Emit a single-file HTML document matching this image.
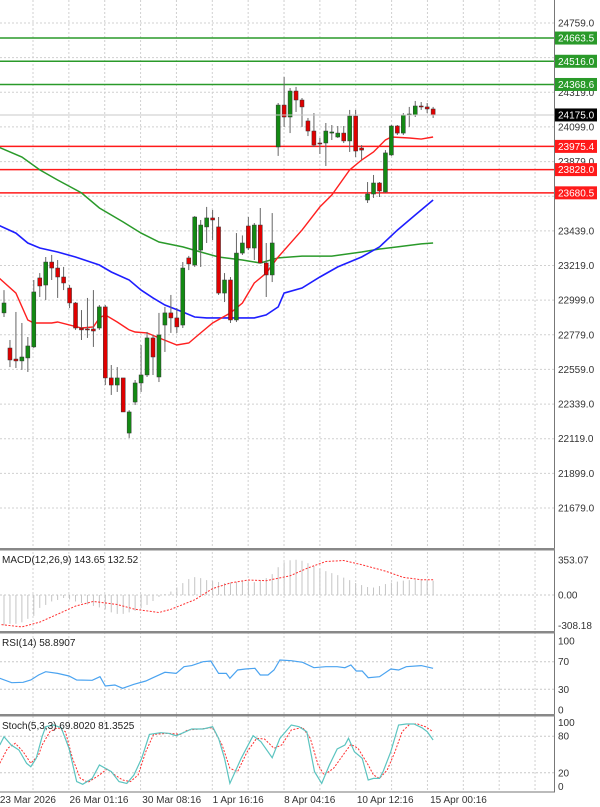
<!DOCTYPE html>
<html><head><meta charset="utf-8">
<style>
html,body{margin:0;padding:0;background:#fff;}
svg{display:block;font-family:"Liberation Sans",sans-serif;}
</style></head>
<body>
<svg id="chart" width="600" height="807" viewBox="0 0 600 807" xmlns="http://www.w3.org/2000/svg">
<g id="grid"></g>
<g id="levels"></g>
<g id="mas"></g>
<g id="candles"></g>
<g id="macd"></g>
<g id="rsi"></g>
<g id="stoch"></g>
<g id="axes"></g>
</svg>
<script>
const opens=[22918,22695,22625,22613,22632,22702,23140,23095,23241,23203,23146,23076,22981,22822,22816,22816,22822,22956,22505,22460,22505,22155,22352,22473,22524,22759,22511,22841,22918,22886,22841,23267,23222,23317,23464,23521,23464,23044,23127,22873,23298,23470,23330,23476,23235,23159,23972,24238,24162,24327,24270,24137,24073,23997,23997,24060,24035,24060,24010,24168,23965,23635,23673,23743,23686,23921,24105,24060,24175,24175,24232,24226,24213];
const closes=[22981,22619,22613,22638,22708,23051,23089,23241,23203,23146,23108,22981,22822,22810,22810,22803,22956,22505,22460,22505,22289,22289,22473,22524,22759,22638,22778,22918,22886,22829,23203,23229,23527,23476,23521,23508,23044,23127,22873,23298,23362,23330,23476,23235,23159,23362,24238,24162,24327,24270,24226,24073,23984,23991,24073,24067,24060,24010,24168,23946,23952,23673,23743,23692,23934,24105,24060,24175,24181,24232,24226,24213,24175];
const highs=[23063,22746,22924,22854,22765,23127,23171,23273,23286,23254,23210,23095,22987,22936,23013,23063,22968,22968,22587,22574,22505,22300,22492,22714,22797,22778,22918,22956,23032,22949,23241,23280,23533,23508,23591,23572,23527,23171,23146,23425,23410,23527,23489,23584,23362,23552,24251,24416,24346,24353,24283,24156,24187,24029,24124,24111,24105,24105,24207,24207,23984,23749,23794,23749,23952,24111,24111,24187,24226,24264,24257,24251,24226];
const lows=[22892,22574,22568,22556,22543,22695,23019,23000,23127,23013,23063,22949,22810,22746,22759,22702,22810,22460,22397,22416,22289,22124,22333,22416,22511,22524,22479,22670,22791,22791,22822,23190,23210,23210,23362,23381,23032,22987,22854,22860,23286,23317,23254,23235,23019,23114,23915,24099,24060,24194,24099,24041,23972,23927,23851,24016,24029,23997,23940,23908,23889,23616,23648,23654,23680,23915,24048,24048,24099,24162,24207,24187,24156];

const fastIdx=[-1,2,4,5,8,9,13,15,16,17,19,21,22,24,26,29,31,33,35,38,40,42,44,46,50,53,55,58,60,62,64,65,68,70,72];
const fastVal=[23146,23044,22873,22854,22854,22860,22822,22829,22886,22905,22860,22810,22797,22791,22759,22714,22727,22791,22854,22918,22981,23108,23171,23273,23444,23591,23667,23826,23889,23940,24016,24035,24029,24022,24035];
const midIdx=[-1,2,4,6,9,12,16,18,21,23,25,27,30,32,34,38,42,44,46,47,50,53,56,60,63,66,69,72];
const midVal=[23476,23425,23362,23330,23305,23273,23222,23178,23127,23063,23013,22968,22924,22892,22886,22886,22886,22905,22956,23044,23076,23146,23210,23273,23337,23444,23540,23635];
const slowIdx=[-1,3,6,9,13,16,20,23,26,30,33,36,40,43,46,50,55,60,63,66,70,72];
const slowVal=[23972,23908,23826,23762,23680,23584,23495,23425,23368,23337,23305,23273,23254,23235,23267,23279,23279,23305,23324,23337,23356,23362];

const levelPrices=[24663.5,24516.0,24368.6,23975.4,23828.0,23680.5];
const levelKinds=["resistance","resistance","resistance","support","support","support"];
const priceTicks=[24759,24319,24099,23879,23439,23219,22999,22779,22559,22339,22119,21899,21679];
const gridPrices=[24759,24539,24319,24099,23879,23659,23439,23219,22999,22779,22559,22339,22119,21899,21679];
const lastPrice=24175.0;

const macdHist=[-305,-290,-290,-275,-240,-210,-130,-100,-65,-50,-30,-45,-65,-80,-95,-110,-125,-145,-175,-190,-190,-175,-160,-130,-100,-60,-20,10,35,75,120,160,180,170,150,140,130,120,125,130,140,135,130,150,170,210,280,330,350,355,345,320,290,265,240,220,200,175,150,120,100,80,75,90,110,125,135,145,150,150,150,148,144];
const sigIdx=[-1,3,6,9,12,15,19,22,26,28,32,35,38,41,44,48,51,54,57,60,64,67,70,72];
const sigVal=[-295,-321,-273,-193,-112,-64,-96,-144,-176,-144,-48,64,122,151,144,193,273,337,347,305,241,177,154,154];

const rsiIdx=[-0.7,1.3,3.2,4.5,5.8,7,9,10.9,12.2,14.8,16.1,17,18.6,19.9,21.8,23.8,25,27,28.9,30.2,31.5,33.4,34.7,36,37.3,37.9,39.2,40.5,42.1,43,44.3,45.3,46.3,48.2,50.1,52,54,55.9,57.2,58.2,59.1,60.1,61.1,63,64.9,66.2,67.5,70,72];
const rsiVal=[45.9,39.6,40.1,43.5,50.7,55.5,53.1,49.3,43.5,43,48.3,34.8,36.2,31.4,37.2,42,46.8,54.6,53.1,62.8,64.3,70,71,53.1,53.1,45.9,58,59.4,60.4,50.7,50.7,58,72.5,71.5,69.1,61.3,62.8,62.8,61.3,65.2,56.5,56.5,46.8,48.3,59.4,58,62.8,64.3,60.4];

const kIdx=[-0.7,0,1.2,2.5,3.8,4.5,5.4,6.4,7,8.3,9.6,10.9,12.2,13.2,14.8,16,18,19.3,20.6,21.8,23.1,24.4,26.3,27.6,28.9,30.2,31.5,33.4,35,36,37,37.9,39.8,41.8,43.1,45,46.3,48.2,49.5,50.8,52.1,53.3,54.6,55.9,57.2,57.8,58.8,60.1,61.1,62,63,63.6,64.9,66.2,67.5,68.8,70.1,71,72];
const kVal=[65.6,79.2,65.6,57.4,35.5,30,43.7,79.2,95.6,98.4,94,60.1,5.5,1.1,10.9,32.8,21.9,5.5,2.7,16.4,43.7,83,85.8,84.7,80.9,86.3,91.8,91.8,95.6,76.5,43.7,2.7,43.7,80.9,71,44.8,76.5,98.4,95.6,87.4,21.9,2.7,32.8,59,65.6,76.5,54.6,43.7,8.2,10.9,10.9,21.9,54.6,98.4,100,100,94,87.4,73.8];
const dIdx=[-0.7,0.6,1.9,3.2,4.5,5.8,6.4,7.7,9,10.3,11.5,12.8,14.1,16,17.3,18.6,19.9,21.2,22.5,23.8,25.1,27.6,29.6,30.8,32.8,35,36.6,37.9,39.2,40.8,42.4,43.7,45.3,46.6,48.2,50.1,51.4,52.7,53.7,55.3,56.9,58.2,59.4,61.1,62,63,64.3,65.6,66.8,68.1,69.4,70.7,72];
const dVal=[35.5,60.1,68.3,54.6,35.5,49.2,65.6,87.4,94,87.4,43.7,10.9,4.4,16.4,26.2,16.4,8.2,5.5,16.4,54.6,83,84.7,83,90.2,91.8,94,65.6,27.3,21.9,54.6,76.5,75.4,60.1,65.6,90.2,94.5,76.5,32.8,16.4,27.3,49.2,66.7,60.1,32.8,16.4,10.9,24.6,54.6,87.4,100,100,95.6,87.4];

const dateLabels=["23 Mar 2026","26 Mar 01:16","30 Mar 08:16","1 Apr 16:16","8 Apr 04:16","10 Apr 12:16","15 Apr 00:16"];
const dateIdx=[-0.7,11,23.2,35,47,59.2,71.5];

const NS="http://www.w3.org/2000/svg";
const PW=554;
const X=i=>4+5.96*i;
const Y=p=>23+(24759-p)*0.15747;
const YM=v=>595-v*0.0993;
const YR=v=>710-v*0.69;
const YS=v=>785-v*0.61;
function mk(tag,attrs,parent){const e=document.createElementNS(NS,tag);for(const k in attrs)e.setAttribute(k,attrs[k]);parent.appendChild(e);return e;}
const G=id=>document.getElementById(id);

// grid
const grid=G('grid');
for(const p of gridPrices){
  const l=mk('line',{x1:0,x2:PW,y1:Y(p),y2:Y(p),stroke:'#d0d0d0','stroke-dasharray':'2,2','stroke-width':1},grid);
  
  
}
for(let k=0;k<15;k++){
  const x=33+35.86*k;
  const l=mk('line',{x1:x,x2:x,y1:0,y2:792,stroke:'#d0d0d0','stroke-dasharray':'2,2','stroke-width':1},grid);
  
  
}
[[YM(0)],[YR(70)],[YR(30)],[YS(80)],[YS(20)]].forEach(([y])=>{
  const l=mk('line',{x1:0,x2:PW,y1:y,y2:y,stroke:'#c8c8c8','stroke-dasharray':'2,2'},grid);
  
  
});

// levels
const lv=G('levels');
levelPrices.forEach((p,i)=>{
  const c=levelKinds[i]==='resistance'?'#2a9a2a':'#ff1a1a';
  const l=mk('line',{x1:0,x2:PW,y1:Y(p),y2:Y(p),stroke:c,'stroke-width':1.5},lv);
  
  
});

// MAs
function path(idx,val,fy){return idx.map((i,k)=>(k?'L':'M')+X(i).toFixed(1)+','+fy(val[k]).toFixed(1)).join(' ');}
const mas=G('mas');
const m1=mk('path',{d:path(slowIdx,slowVal,Y),fill:'none',stroke:'#2a9a2a','stroke-width':1.5},mas);


const m2=mk('path',{d:path(midIdx,midVal,Y),fill:'none',stroke:'#1e1eff','stroke-width':1.6},mas);


const m3=mk('path',{d:path(fastIdx,fastVal,Y),fill:'none',stroke:'#ff2020','stroke-width':1.4},mas);



// candles
const cg=G('candles');
for(let i=0;i<opens.length;i++){
  const x=X(i),up=closes[i]>=opens[i];
  const w=mk('line',{x1:x,x2:x,y1:Y(highs[i]),y2:Y(lows[i]),stroke:'#666','stroke-width':1},cg);
  
  
  const t=Y(Math.max(opens[i],closes[i])),b=Y(Math.min(opens[i],closes[i]));
  const r=mk('rect',{x:x-2,y:t,width:4,height:Math.max(1,b-t),fill:up?'#138a13':'#e00000',stroke:'#333','stroke-width':0.5},cg);
  
  
}

// MACD
const mg=G('macd');
macdHist.forEach((v,i)=>{
  const l=mk('line',{x1:X(i),x2:X(i),y1:YM(0),y2:YM(v),stroke:'#c4c4c4','stroke-width':1},mg);
  
  
});
const ms=mk('path',{d:path(sigIdx,sigVal,YM),fill:'none',stroke:'#ff3030','stroke-width':1,'stroke-dasharray':'2,1.5'},mg);


const mt=mk('text',{x:2,y:563,'font-size':10,fill:'#222'},mg);mt.textContent='MACD(12,26,9) 143.65 132.52';



// RSI
const rg=G('rsi');
const rl=mk('path',{d:path(rsiIdx,rsiVal,YR),fill:'none',stroke:'#4aa3f0','stroke-width':1.2},rg);


const rt=mk('text',{x:2,y:646,'font-size':10,fill:'#222'},rg);rt.textContent='RSI(14) 58.8907';



// Stoch
const sg=G('stoch');
const sd=mk('path',{d:path(dIdx,dVal,YS),fill:'none',stroke:'#ff3030','stroke-width':1,'stroke-dasharray':'2,1.5'},sg);


const sk=mk('path',{d:path(kIdx,kVal,YS),fill:'none',stroke:'#5cc4c0','stroke-width':1.2},sg);


const st=mk('text',{x:2,y:729,'font-size':10,fill:'#222'},sg);st.textContent='Stoch(5,3,3) 69.8020 81.3525';



// axes & separators
const ax=G('axes');
const av=mk('line',{x1:PW+0.5,x2:PW+0.5,y1:0,y2:792,stroke:'#777','stroke-width':1},ax);


[549,632,715].forEach(y=>{
  const s=mk('rect',{x:0,y:y-1,width:PW+1,height:2.5,fill:'#888'},ax);
  
  
});
const bl=mk('line',{x1:0,x2:PW+1,y1:792,y2:792,stroke:'#777'},ax);


priceTicks.forEach(p=>{
  const t=mk('text',{x:558,y:Y(p)+3.5,'font-size':10,fill:'#333'},ax);t.textContent=p.toFixed(1);
  
  
});
levelPrices.forEach((p,i)=>{
  const c=levelKinds[i]==='resistance'?'#2a9a2a':'#ff1a1a';
  const r=mk('rect',{x:555,y:Y(p)-6.5,width:42,height:13,fill:c},ax);
  
  
  const t=mk('text',{x:558,y:Y(p)+3.5,'font-size':10,fill:'#fff'},ax);t.textContent=p.toFixed(1);
  
  
});
const lb=mk('rect',{x:555,y:Y(lastPrice)-6.5,width:42,height:13,fill:'#000'},ax);


const lt=mk('text',{x:558,y:Y(lastPrice)+3.5,'font-size':10,fill:'#fff'},ax);lt.textContent=lastPrice.toFixed(1);


const lln=mk('line',{x1:0,x2:PW,y1:Y(lastPrice),y2:Y(lastPrice),stroke:'#c8c8c8','stroke-width':1},ax);


[[353.07,YM(353.07)],[0,YM(0)],[-308.18,YM(-308.18)]].forEach(([v,y])=>{
  const t=mk('text',{x:558,y:y+3.5,'font-size':10,fill:'#333'},ax);t.textContent=v.toFixed(2);
  
  
});
[100,70,30,0].forEach(v=>{
  const t=mk('text',{x:558,y:YR(v)+3.5,'font-size':10,fill:'#333'},ax);t.textContent=v;
  
  
});
[100,80,20,0].forEach(v=>{
  const t=mk('text',{x:558,y:YS(v)+(v===100?2:v===0?5:3.5),'font-size':10,fill:'#333'},ax);t.textContent=v;
  
  
});
dateLabels.forEach((d,i)=>{
  const t=mk('text',{x:X(dateIdx[i]),y:803,'font-size':10,fill:'#333'},ax);t.textContent=d;
  
  
});
</script>
</body></html>
